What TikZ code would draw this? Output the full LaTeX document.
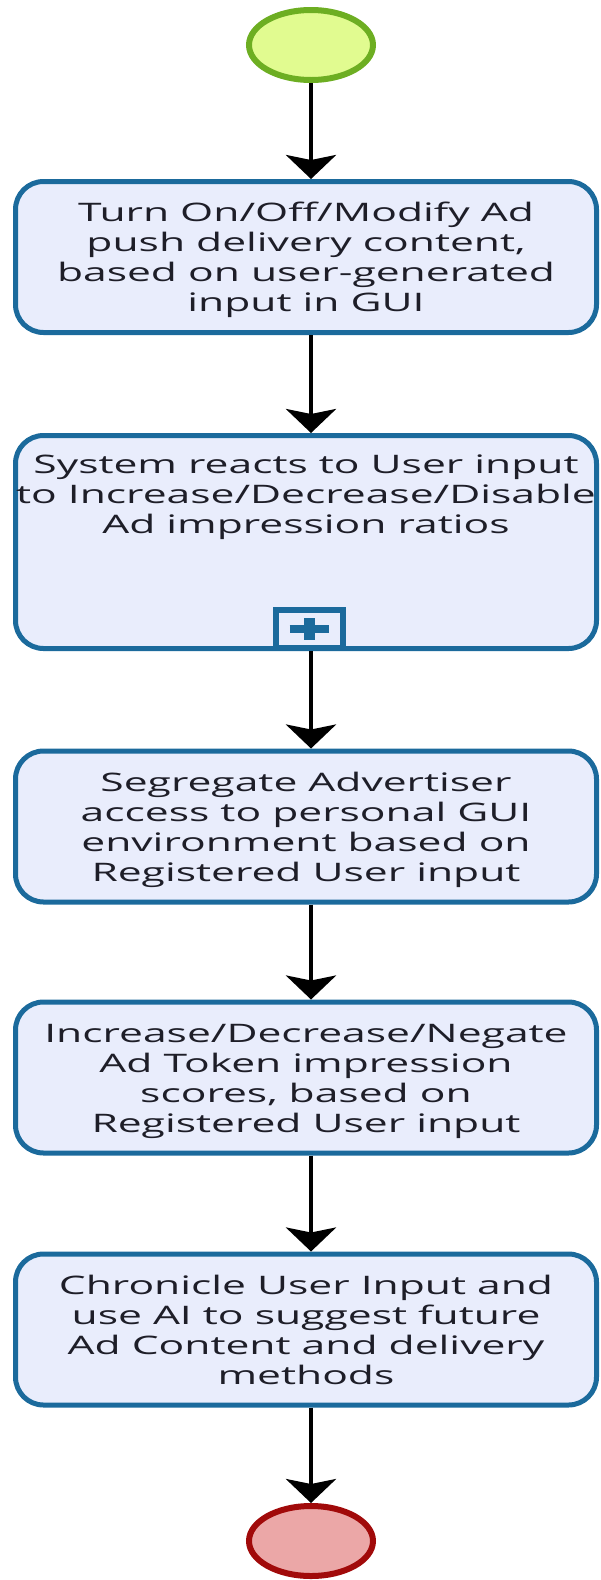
\documentclass[tikz,border=0pt]{standalone}
\usepackage{fontspec}
\setmainfont{Open Sans}
\usetikzlibrary{arrows.meta,shapes.geometric}

\definecolor{taskline}{HTML}{1B6A9C}
\definecolor{taskfill}{HTML}{E9EDFC}
\definecolor{startline}{HTML}{6DAE22}
\definecolor{startfill}{HTML}{E1FB90}
\definecolor{endline}{HTML}{A10A0A}
\definecolor{endfill}{HTML}{EBA7A7}
\definecolor{ink}{HTML}{1E1E28}

\begin{document}
\begin{tikzpicture}[x=1pt,y=-1pt,
  task/.style={draw=taskline, fill=taskfill, line width=5pt, rounded corners=28pt,
    minimum width=581pt, minimum height=151pt, inner sep=0pt},
  tasktext/.style={anchor=north, align=center, inner sep=0pt, text=ink, xscale=1.67,
    font=\fontsize{25.5}{30}\selectfont},
  event/.style={ellipse, line width=6pt, minimum width=124pt, minimum height=70pt, inner sep=0pt},
  flow/.style={-{Stealth[length=24pt,width=50pt,inset=5pt]}, line width=4.5pt, black}]

\useasboundingbox (0,0) rectangle (600,1580);

% events
\node[event, draw=startline, fill=startfill] (start) at (311,45) {};
\node[event, draw=endline, fill=endfill] (end) at (311,1541) {};

% tasks
\node[task] (b1) at (306,257) {};
\node[task, minimum height=213pt] (b2) at (306,542) {};
\node[task] (b3) at (306,826.5) {};
\node[task] (b4) at (306,1077.5) {};
\node[task] (b5) at (306,1329.5) {};

% collapsed sub-process marker
\node[draw=taskline, fill=taskfill, line width=6pt, minimum width=67pt, minimum height=38pt,
  inner sep=0pt] (mk) at (309,629) {};
\draw[taskline, line width=8pt] ([xshift=-19.5pt]mk.center) -- ([xshift=19.5pt]mk.center);
\draw[taskline, line width=11pt] ([yshift=11pt]mk.center) -- ([yshift=-11pt]mk.center);

% labels
\node[tasktext] (t1) at (306,200) {\strut Turn On/Off/Modify Ad\\push delivery content,\\based on user-generated\\input in GUI};
\node[tasktext] (t2) at (306,452) {\strut System reacts to User input\\to Increase/Decrease/Disable\\Ad impression ratios};
\node[tasktext] (t3) at (306,770) {\strut Segregate Advertiser\\access to personal GUI\\environment based on\\Registered User input};
\node[tasktext] (t4) at (306,1021) {\strut Increase/Decrease/Negate\\Ad Token impression\\scores, based on\\Registered User input};
\node[tasktext] (t5) at (306,1273) {\strut Chronicle User Input and\\use AI to suggest future\\Ad Content and delivery\\methods};

% sequence flows
\draw[flow] (start.south) -- (start.south |- b1.north);
\draw[flow] (b1.south -| start.south) -- (start.south |- b2.north);
\draw[flow] (b2.south -| start.south) -- (start.south |- b3.north);
\draw[flow] (b3.south -| start.south) -- (start.south |- b4.north);
\draw[flow] (b4.south -| start.south) -- (start.south |- b5.north);
\draw[flow] (b5.south -| end.north) -- (end.north);
\end{tikzpicture}
\end{document}
